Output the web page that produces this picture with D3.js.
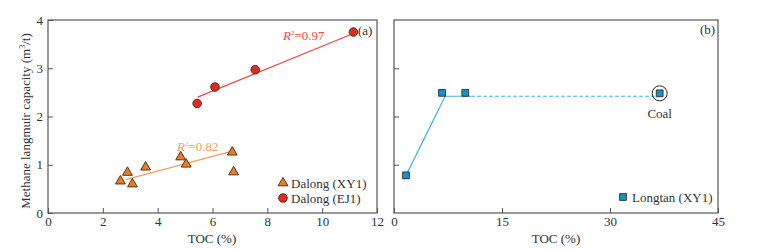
<!DOCTYPE html>
<html>
<head>
<meta charset="utf-8">
<script src="https://cdn.jsdelivr.net/npm/d3@7"></script>
<style>
  body { margin: 0; background: #fff; }
</style>
</head>
<body>
<div id="viz"></div>
<script>
// panel (a) data
const xy1Toc = [2.64, 2.90, 3.08, 3.56, 4.84, 5.04, 6.72, 6.77];
const xy1Cap = [0.66, 0.84, 0.60, 0.95, 1.16, 1.01, 1.26, 0.85];
const ej1Toc = [5.44, 6.09, 7.56, 11.14];
const ej1Cap = [2.27, 2.61, 2.97, 3.75];
// trend lines
const fitEj1 = [[5.46, 2.40], [11.14, 3.72]];
const fitXy1 = [[2.84, 0.69], [6.72, 1.28]];

// panel (b) data
const ltToc = [1.67, 6.67, 9.9, 36.9];
const ltCap = [0.78, 2.49, 2.49, 2.48];
const ltSolid = [[1.67, 0.78], [7.1, 2.42], [10.7, 2.42]];
const ltDashed = [[10.7, 2.42], [36.4, 2.42]];

const ticksA = [0, 2, 4, 6, 8, 10, 12];
const ticksB = [0, 15, 30, 45];
const ticksY = [0, 1, 2, 3, 4];

const serif = "'Liberation Serif', 'Times New Roman', Times, serif";

const svg = d3.select("#viz").append("svg")
  .attr("width", 761).attr("height", 250)
  .style("font-family", serif);

const axisCol = "#555";
const plotTop = 20, plotBottom = 213;

const y = d3.scaleLinear().domain([0, 4]).range([plotBottom, plotTop]);
const xA = d3.scaleLinear().domain([0, 12]).range([48, 377]);
const xB = d3.scaleLinear().domain([0, 45]).range([394, 718]);

function frame(x) {
  const [l, r] = x.range();
  svg.append("rect")
    .attr("x", l).attr("y", plotTop)
    .attr("width", r - l).attr("height", plotBottom - plotTop)
    .attr("fill", "none").attr("stroke", axisCol).attr("stroke-width", 1.2);
}

function styleAxis(g) {
  g.attr("font-family", null).attr("font-size", null);
  g.select(".domain").remove();
  g.selectAll("line").attr("stroke", axisCol);
  g.selectAll("text").attr("fill", "#333")
    .style("font-family", serif).style("font-size", "13px");
}

// ---- panel (a)
frame(xA);
svg.append("g").attr("transform", `translate(0,${plotBottom})`)
  .call(d3.axisBottom(xA).tickValues(ticksA).tickFormat(d3.format("d")).tickSize(-5).tickPadding(4))
  .call(styleAxis);
svg.append("g").attr("transform", `translate(${xA.range()[0]},0)`)
  .call(d3.axisLeft(y).tickValues(ticksY).tickFormat(d3.format("d")).tickSize(-5).tickPadding(5))
  .call(styleAxis);

// ---- panel (b)
frame(xB);
svg.append("g").attr("transform", `translate(0,${plotBottom})`)
  .call(d3.axisBottom(xB).tickValues(ticksB).tickFormat(d3.format("d")).tickSize(-5).tickPadding(4))
  .call(styleAxis);
svg.append("g").attr("transform", `translate(${xB.range()[0]},0)`)
  .call(d3.axisLeft(y).tickValues([1, 2, 3]).tickSize(-5).tickFormat(""))
  .call(styleAxis);

// axis titles
svg.append("text").attr("x", 212).attr("y", 243)
  .attr("text-anchor", "middle").attr("font-size", 13).attr("fill", "#333")
  .text("TOC (%)");
svg.append("text").attr("x", 556).attr("y", 243)
  .attr("text-anchor", "middle").attr("font-size", 13).attr("fill", "#333")
  .text("TOC (%)");
const yt = svg.append("text")
  .attr("transform", "translate(30,121) rotate(-90)")
  .attr("text-anchor", "middle").attr("font-size", 13).attr("fill", "#333");
yt.append("tspan").text("Methane langmuir capacity (m");
yt.append("tspan").attr("font-size", 8).attr("dy", -5).text("3");
yt.append("tspan").attr("dy", 5).text("/t)");

const line = x => d3.line().x(d => x(d[0])).y(d => y(d[1]));

// trend lines panel (a)
svg.append("path").datum(fitEj1).attr("d", line(xA))
  .attr("fill", "none").attr("stroke", "#f04a44").attr("stroke-width", 1.3);
svg.append("path").datum(fitXy1).attr("d", line(xA))
  .attr("fill", "none").attr("stroke", "#f5a060").attr("stroke-width", 1.3);

const triFill = "#ee7d22", cirFill = "#e32a22", sqFill = "#0e94d2", mk = "#3a2a20";
const tri = d3.symbol().type(d3.symbolTriangle).size(42);
const cir = d3.symbol().type(d3.symbolCircle).size(58);
const sq = d3.symbol().type(d3.symbolSquare).size(46);

svg.append("g").selectAll("path").data(d3.zip(xy1Toc, xy1Cap)).join("path")
  .attr("d", tri).attr("transform", d => `translate(${xA(d[0])},${y(d[1])})`)
  .attr("fill", triFill).attr("stroke", mk).attr("stroke-width", 0.9);
svg.append("g").selectAll("path").data(d3.zip(ej1Toc, ej1Cap)).join("path")
  .attr("d", cir).attr("transform", d => `translate(${xA(d[0])},${y(d[1])})`)
  .attr("fill", cirFill).attr("stroke", mk).attr("stroke-width", 0.9);

function r2(x, yy, val, col) {
  const t = svg.append("text").attr("x", x).attr("y", yy)
    .attr("font-size", 13).attr("fill", col);
  t.append("tspan").attr("font-style", "italic").text("R");
  t.append("tspan").attr("font-size", 7).attr("dy", -5).text("2");
  t.append("tspan").attr("dy", 5).text("=" + val);
}
r2(283, 40, "0.97", "#f04a44");
r2(177, 151, "0.82", "#f5a060");

svg.append("text").attr("x", 358).attr("y", 35).attr("font-size", 13)
  .attr("fill", "#333").text("(a)");

// legend (a)
svg.append("path").attr("d", tri).attr("transform", "translate(283,183)")
  .attr("fill", triFill).attr("stroke", mk).attr("stroke-width", 0.9);
svg.append("text").attr("x", 291).attr("y", 187.5).attr("font-size", 13)
  .attr("fill", "#333").text("Dalong (XY1)");
svg.append("path").attr("d", cir).attr("transform", "translate(283,198)")
  .attr("fill", cirFill).attr("stroke", mk).attr("stroke-width", 0.9);
svg.append("text").attr("x", 291).attr("y", 202.5).attr("font-size", 13)
  .attr("fill", "#333").text("Dalong (EJ1)");

// ---- panel (b) marks
svg.append("path").datum(ltSolid).attr("d", line(xB))
  .attr("fill", "none").attr("stroke", "#3fb4e8").attr("stroke-width", 1.2);
svg.append("path").datum(ltDashed).attr("d", line(xB))
  .attr("fill", "none").attr("stroke", "#3fb4e8").attr("stroke-width", 1.2)
  .attr("stroke-dasharray", "4,2");

svg.append("g").selectAll("path").data(d3.zip(ltToc, ltCap)).join("path")
  .attr("d", sq).attr("transform", d => `translate(${xB(d[0])},${y(d[1])})`)
  .attr("fill", sqFill).attr("stroke", mk).attr("stroke-width", 0.9);

// coal
const coal = [ltToc[3], ltCap[3]];
svg.append("circle").attr("cx", xB(coal[0])).attr("cy", y(coal[1])).attr("r", 7.5)
  .attr("fill", "none").attr("stroke", "#222").attr("stroke-width", 1);
svg.append("text").attr("x", xB(coal[0])).attr("y", 118).attr("text-anchor", "middle")
  .attr("font-size", 13).attr("fill", "#333").text("Coal");

svg.append("text").attr("x", 700).attr("y", 34).attr("font-size", 13)
  .attr("fill", "#333").text("(b)");

// legend (b)
svg.append("path").attr("d", sq).attr("transform", "translate(623,197)")
  .attr("fill", sqFill).attr("stroke", mk).attr("stroke-width", 0.9);
svg.append("text").attr("x", 632).attr("y", 201.5).attr("font-size", 13)
  .attr("fill", "#333").text("Longtan (XY1)");
</script>
</body>
</html>
